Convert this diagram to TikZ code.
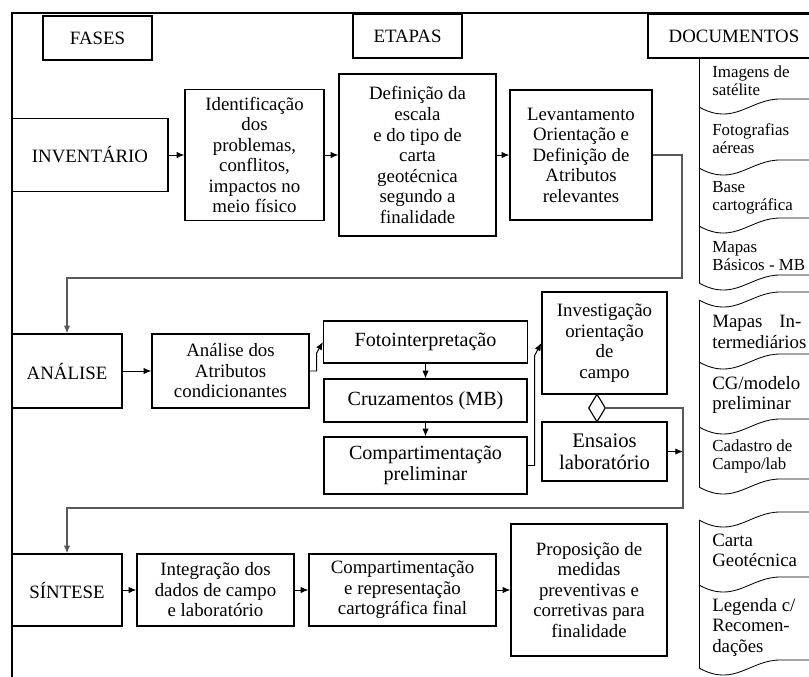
\documentclass[tikz,border=0pt]{standalone}
\usepackage{fontspec}
\setmainfont{Liberation Serif}
\usetikzlibrary{arrows.meta,shapes.geometric}

\tikzset{
  caixa/.style={draw, line width=0.9pt, align=center, inner sep=1pt, font=\fontsize{13.4}{14.6}\selectfont},
  caixag/.style={caixa, font=\fontsize{14.3}{15.3}\selectfont},
  tam/.style 2 args={minimum width=#1*0.025cm, minimum height=#2*0.025cm},
  seta/.style={-{Latex[length=5.5pt,width=4.5pt]}, line width=0.7pt},
  retorno/.style={seta, draw=black!65, line width=0.8pt},
  docto/.style={anchor=west, inner sep=0pt, align=left, font=\fontsize{12}{12.8}\selectfont},
  doctog/.style={docto, font=\fontsize{13.4}{14.4}\selectfont},
}

\begin{document}
\begin{tikzpicture}[x=0.025cm, y=-0.025cm]
  \useasboundingbox (0,0) rectangle (809,677);
  \clip (0,0) rectangle (809,677);
  % moldura
  \draw[line width=1pt] (12,677) -- (12,13) -- (830,13);

  % cabecalhos
  \node[caixa, tam={109}{44}] (fases) at (97.5,38) {FASES};
  \node[caixa, tam={109}{44}] (etapas) at (407.5,36) {ETAPAS};
  \node[caixa, tam={172}{44}] (docs) at (734,36) {DOCUMENTOS};

  % inventario
  \node[caixa, tam={156}{73}] (inv) at (90,155) {INVENTÁRIO};
  \node[caixa, tam={139}{131}] (ident) at (254.5,155)
    {Identificação\\dos\\problemas,\\conflitos,\\impactos no\\meio físico};
  \node[caixa, tam={157}{162}] (defin) at (417.5,155)
    {Definição da\\escala\\e do tipo de\\carta\\geotécnica\\segundo a\\finalidade};
  \node[caixa, tam={142}{130}] (levant) at (581,155)
    {Levantamento\\Orientação e\\Definição de\\Atributos\\relevantes};

  % analise
  \node[caixa, tam={110}{74}] (anal) at (67,371) {ANÁLISE};
  \node[caixa, tam={157}{74}] (atrib) at (230.5,371)
    {Análise dos\\Atributos\\condicionantes};
  \node[caixag, tam={204}{42}] (foto) at (425.5,342) {Fotointerpretação};
  \node[caixag, tam={203}{43}] (cruz) at (425.5,400.5) {Cruzamentos (MB)};
  \node[caixag, tam={203}{57}] (compp) at (425.5,465.5) {Compartimentação\\preliminar};
  \node[caixa, tam={125}{102}] (invest) at (604.5,343)
    {Investigação\\orientação\\de\\campo};
  \node[caixag, font=\fontsize{14.7}{15.6}\selectfont, tam={125}{59}] (ensaio) at (604.5,451.5)
    {Ensaios\\laboratório};
  \node[diamond, draw, line width=0.8pt, inner sep=0pt, tam={17}{28}] (agg) at (597,408) {};

  % sintese
  \node[caixa, tam={110}{72}] (sint) at (67,590) {SÍNTESE};
  \node[caixa, tam={157}{72}] (integ) at (215.5,590)
    {Integração dos\\dados de campo\\e laboratório};
  \node[caixa, tam={187}{72}] (compf) at (402.5,590)
    {Compartimentação\\e representação\\cartográfica final};
  \node[caixa, tam={156}{132}] (propos) at (589,590)
    {Proposição de\\medidas\\preventivas e\\corretivas para\\finalidade};

  % ligacoes
  \coordinate (r1) at (682,278);
  \coordinate (r2) at (683,508);
  \draw[seta] (inv) -- (ident);
  \draw[seta] (ident) -- (defin);
  \draw[seta] (defin) -- (levant);
  \draw[retorno] (levant.east) -| (r1) -| (anal.north);
  \draw[seta] (anal) -- (atrib);
  \draw[seta] (atrib.east) -- ++(7,0) -- ++(0,-18) -- (foto.west);
  \draw[seta] (foto) -- (cruz);
  \draw[seta] (cruz) -- (compp);
  \draw[seta] (compp.east) -- ++(7,0) -- ++(0,-110) -- (invest.west);
  \draw[retorno] (agg.east) -| (r2) -| (sint.north);
  \draw[seta] (ensaio.east) -- (ensaio.east -| r2);
  \draw[seta] (sint) -- (integ);
  \draw[seta] (integ) -- (compf);
  \draw[seta] (compf) -- (propos);

  % documentos
  \draw[line width=0.6pt] (699,58) -- (699,283) (699,300) -- (699,487) (699,520) -- (699,668);
  \foreach \y in {107,168,226,283,300,362,427,487,520,585,668}
    \draw[line width=0.6pt] (699,\y) .. controls (735,{\y+20}) and (750,{\y-9}) .. (782,{\y-8}) -- (830,{\y-8});
  \node[docto] (d1) at (712,81) {Imagens de\\satélite};
  \node[docto] (d2) at (712,139) {Fotografias\\aéreas};
  \node[docto] (d3) at (712,198) {Base\\cartográfica};
  \node[docto] (d4) at (712,256) {Mapas\\Básicos - MB};
  \node[doctog] (d5) at (712,332) {Mapas\hspace{0.9em}In-\\termediários};
  \node[doctog] (d6) at (712,395) {CG/modelo\\preliminar};
  \node[docto] (d7) at (712,456.5) {Cadastro de\\Campo/lab};
  \node[doctog] (d8) at (712,550) {Carta\\Geotécnica};
  \node[doctog, font=\fontsize{13.4}{14.6}\selectfont] (d9) at (712,627) {Legenda c/\\Recomen-\\dações};
\end{tikzpicture}
\end{document}
